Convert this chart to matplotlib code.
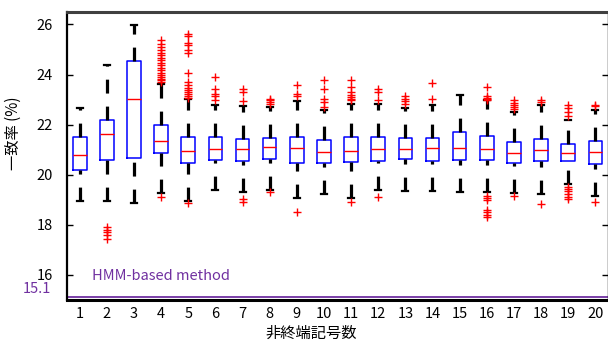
import matplotlib
matplotlib.use("Agg")
import matplotlib.pyplot as plt
import matplotlib.transforms as mtransforms

plt.rcParams["font.family"] = ["Noto Sans CJK JP", "DejaVu Sans"]
plt.rcParams["lines.scale_dashes"] = False

# box statistics, one entry per number of nonterminals
n_symbols = list(range(1, 21))
medians = [20.80, 21.64, 23.01, 21.36, 20.93, 21.01, 21.01, 21.09, 21.05, 20.89,
           20.96, 21.01, 21.01, 21.05, 21.05, 21.01, 20.87, 20.97, 20.87, 20.89]
q1s = [20.17, 20.57, 20.65, 20.87, 20.48, 20.57, 20.53, 20.61, 20.48, 20.48,
       20.51, 20.53, 20.61, 20.53, 20.60, 20.57, 20.48, 20.53, 20.55, 20.44]
q3s = [21.51, 22.17, 24.53, 21.99, 21.51, 21.51, 21.44, 21.47, 21.51, 21.37,
       21.51, 21.51, 21.47, 21.47, 21.71, 21.53, 21.31, 21.44, 21.24, 21.35]
whis_lo = [18.95, 18.95, 18.88, 19.27, 18.95, 19.41, 19.31, 19.41, 19.07, 19.24,
           19.07, 19.41, 19.37, 19.35, 19.31, 19.31, 19.27, 19.24, 19.61, 19.17]
whis_hi = [22.68, 24.40, 25.97, 23.61, 23.04, 22.80, 22.75, 22.71, 22.93, 22.60,
           22.84, 22.84, 22.67, 22.80, 23.17, 22.97, 22.51, 22.80, 22.17, 22.57]
outliers = [
    [],
    [17.91, 17.81, 17.71, 17.61, 17.44],
    [],
    [25.37, 25.24, 25.11, 24.97, 24.87, 24.77, 24.68, 24.57, 24.47, 24.37, 24.28,
     24.17, 24.07, 23.97, 23.91, 23.84, 23.77, 23.71, 19.11],
    [25.64, 25.53, 25.28, 25.17, 24.97, 24.88, 24.08, 23.71, 23.57, 23.48, 23.40,
     23.31, 23.21, 23.13, 23.07, 18.87],
    [23.91, 23.44, 23.24, 23.13, 23.00],
    [23.44, 23.31, 22.93, 19.04, 18.91],
    [23.04, 22.97, 22.91, 22.84, 19.31],
    [23.57, 23.24, 23.13, 18.51],
    [23.77, 23.44, 23.04, 22.91, 22.71],
    [23.77, 23.51, 23.31, 23.17, 23.11, 23.04, 22.97, 18.91],
    [23.41, 23.31, 23.00, 19.13],
    [23.13, 23.04, 22.95, 22.84],
    [23.67, 23.01],
    [],
    [23.51, 23.13, 23.08, 23.04, 23.00, 19.17, 19.08, 19.00, 18.60, 18.51, 18.41, 18.31],
    [22.97, 22.87, 22.77, 22.71, 22.64, 19.17],
    [22.97, 22.91, 18.84],
    [22.80, 22.67, 22.51, 22.35, 19.51, 19.44, 19.37, 19.24, 19.13, 19.04],
    [22.80, 22.73, 18.93],
]
hmm_value = 15.1
purple = "#7030A0"

stats = []
for i in range(len(n_symbols)):
    stats.append({"med": medians[i], "q1": q1s[i], "q3": q3s[i],
                  "whislo": whis_lo[i], "whishi": whis_hi[i], "fliers": outliers[i]})

fig = plt.figure(figsize=(6.08, 3.42), dpi=100)
ax = fig.add_axes([0.1097, 0.123, 0.8895, 0.842])

parts = ax.bxp(stats, positions=n_symbols, widths=0.5, capwidths=0.22,
               boxprops=dict(color="blue", linewidth=1.1),
               medianprops=dict(color="red", linewidth=1.0),
               whiskerprops=dict(color="black", linewidth=2.3, linestyle=(0, (10, 9.4))),
               capprops=dict(color="black", linewidth=1.6),
               flierprops=dict(marker="+", markeredgecolor="red", markersize=6,
                               markeredgewidth=1.0, linestyle="none"))

# dashes of the lower whisker start at its far end
for w in parts["whiskers"][0::2]:
    y = w.get_ydata()
    w.set_ydata(y[::-1])

ax.axhline(hmm_value, color=purple, linewidth=1.3)
ax.text(1.45, 15.95, "HMM-based method", color=purple, fontsize=10.5, va="center", ha="left")

ax.set_xlim(0.52, 20.45)
ax.set_ylim(15.0, 26.5)
ax.set_yticks([16, 18, 20, 22, 24, 26])
ax.set_xticks(n_symbols)
ax.set_xticklabels([str(n) for n in n_symbols])
ax.tick_params(axis="y", direction="in", length=4, width=1, right=True, labelsize=10.5, pad=10)
ax.tick_params(axis="x", length=0, labelsize=10.5, pad=5)

trans = mtransforms.blended_transform_factory(ax.transAxes, ax.transData)
ax.text(-0.029, 15.42, "15.1", transform=trans, color=purple, fontsize=10.5,
        ha="right", va="center")

ax.spines["top"].set_color("#404040")
ax.spines["top"].set_linewidth(2.2)
ax.spines["left"].set_linewidth(1.6)
ax.spines["bottom"].set_linewidth(2.2)
ax.spines["right"].set_linewidth(1.0)

ax.set_ylabel("一致率 (%)", fontsize=11)
ax.yaxis.set_label_coords(-0.083, 0.58)
ax.set_xlabel("非終端記号数", fontsize=11)
ax.xaxis.set_label_coords(0.452, -0.085)

fig.savefig("out.png", dpi=100)
